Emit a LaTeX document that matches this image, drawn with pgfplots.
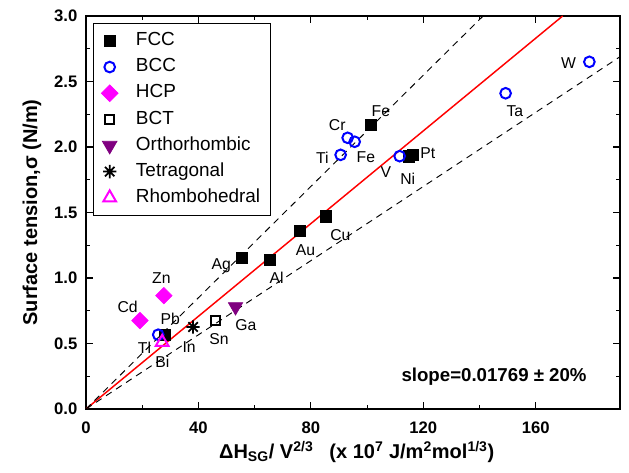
\documentclass[border=0pt]{standalone}
\usepackage{fontspec}
\setmainfont{Liberation Sans}
\usepackage{pgfplots}
\pgfplotsset{compat=1.18}
\definecolor{ortho}{RGB}{128,0,128}
\definecolor{mag}{RGB}{255,0,255}
\definecolor{blu}{RGB}{0,0,255}
% eight-armed asterisk
\pgfdeclareplotmark{star8}{%
  \pgfpathmoveto{\pgfqpoint{-\pgfplotmarksize}{0pt}}\pgfpathlineto{\pgfqpoint{\pgfplotmarksize}{0pt}}%
  \pgfpathmoveto{\pgfqpoint{0pt}{-\pgfplotmarksize}}\pgfpathlineto{\pgfqpoint{0pt}{\pgfplotmarksize}}%
  \pgfpathmoveto{\pgfqpoint{-0.707\pgfplotmarksize}{-0.707\pgfplotmarksize}}\pgfpathlineto{\pgfqpoint{0.707\pgfplotmarksize}{0.707\pgfplotmarksize}}%
  \pgfpathmoveto{\pgfqpoint{-0.707\pgfplotmarksize}{0.707\pgfplotmarksize}}\pgfpathlineto{\pgfqpoint{0.707\pgfplotmarksize}{-0.707\pgfplotmarksize}}%
  \pgfusepathqstroke}

\begin{document}
\begin{tikzpicture}
\begin{axis}[
  scale only axis, width=400.5pt, height=294.75pt,
  xmin=0, xmax=190, ymin=0, ymax=3,
  xtick={0,40,...,160}, ytick={0,0.5,...,3},
  minor x tick num=1, minor y tick num=1,
  tick align=inside, xtick pos=both, ytick pos=both,
  major tick length=5pt, minor tick length=3pt,
  axis line style={line width=1pt},
  every tick/.append style={black, line width=0.8pt},
  ticklabel style={font=\fontsize{12.5}{14}\selectfont\bfseries},
  /pgf/number format/assume math mode=true,
  y tick label style={xshift=-3pt, /pgf/number format/.cd, fixed, fixed zerofill, precision=1},
  x tick label style={yshift=-6pt},
  label style={font=\fontsize{15}{18}\selectfont\bfseries},
  xlabel={ΔH\textsubscript{SG}/ V\textsuperscript{2/3}\hspace{0.8em}(x 10\textsuperscript{7} J/m\textsuperscript{2}mol\textsuperscript{1/3})},
  ylabel={Surface tension,σ (N/m)},
  xlabel style={at={(axis description cs:0.507,0)}, anchor=center, yshift=-32pt},
  ylabel style={at={(axis description cs:-0.101,0.5)}, anchor=center},
  legend style={at={(axis description cs:0.0131,0.982)}, anchor=north west,
    draw=black, line width=0.6pt, font=\fontsize{14.2}{16}\selectfont,
    inner xsep=6pt, inner ysep=3.3pt, row sep=0pt, column sep=11.5pt,
    nodes={text height=10pt, text depth=3pt, inner ysep=3.3pt, inner xsep=2pt}},
  legend cell align=left,
  legend image code/.code={\draw[mark repeat=2,mark phase=2] plot coordinates {(0pt,0pt)(9pt,0pt)(18pt,0pt)};},
]
% fit line and +-20% band
\addplot[forget plot, red, line width=1.1pt] coordinates {(0,0) (169.6,3)};
\addplot[forget plot, black, line width=0.7pt, dash pattern=on 5pt off 4pt] coordinates {(0,0) (141.3,3)};
\addplot[forget plot, black, line width=0.7pt, dash pattern=on 5pt off 4pt] coordinates {(0,0) (190,2.689)};

\addplot[only marks, mark=square*, mark size=4.3pt, black] coordinates
  {(101.3,2.17) (116.2,1.94) (114.8,1.93) (85.3,1.47) (76.0,1.36) (65.4,1.14) (55.4,1.155) (28.1,0.568)};
\addlegendentry{FCC}
\addplot[only marks, mark=o, mark size=4pt, blu, mark options={line width=1.5pt}] coordinates
  {(93.1,2.07) (95.6,2.04) (90.6,1.94) (111.6,1.93) (149.3,2.41) (179.1,2.65) (25.7,0.567)};
\addlegendentry{BCC}
\addplot[only marks, mark=square*, mark size=4.4pt, mag, mark options={rotate=45}] coordinates
  {(27.7,0.865) (19.2,0.675)};
\addlegendentry{HCP}
\addplot[only marks, mark=square, mark size=3.4pt, black, mark options={line width=1.4pt}] coordinates
  {(46.2,0.675)};
\addlegendentry{BCT}
\addplot[only marks, mark=triangle*, mark size=6.3pt, ortho, mark options={rotate=180}] coordinates
  {(53.2,0.78)};
\addlegendentry{Orthorhombic}
\addplot[only marks, mark=star8, mark size=5pt, black, mark options={line width=1.3pt}] coordinates
  {(38.1,0.626)};
\addlegendentry{Tetragonal}
\addplot[only marks, mark=triangle, mark size=5.5pt, mag, mark options={line width=1.5pt}] coordinates
  {(27.1,0.51)};
\addlegendentry{Rhombohedral\hspace{15pt}}

\begin{scope}[every node/.style={font=\fontsize{11.8}{13}\selectfont}]
\node at (axis cs:104.9,2.27) {Fe};
\node at (axis cs:89.4,2.17) {Cr};
\node at (axis cs:84.1,1.92) {Ti};
\node at (axis cs:99.6,1.92) {Fe};
\node at (axis cs:106.7,1.81) {V};
\node at (axis cs:114.5,1.76) {Ni};
\node at (axis cs:121.6,1.95) {Pt};
\node at (axis cs:152.6,2.27) {Ta};
\node at (axis cs:171.7,2.64) {W};
\node at (axis cs:90.5,1.33) {Cu};
\node at (axis cs:78.1,1.21) {Au};
\node at (axis cs:67.8,1.0) {Al};
\node at (axis cs:48.1,1.09) {Ag};
\node at (axis cs:26.8,1.0) {Zn};
\node at (axis cs:14.8,0.78) {Cd};
\node at (axis cs:30.0,0.69) {Pb};
\node at (axis cs:20.8,0.47) {Tl};
\node at (axis cs:27.2,0.36) {Bi};
\node at (axis cs:36.7,0.47) {In};
\node at (axis cs:47.3,0.53) {Sn};
\node at (axis cs:56.9,0.64) {Ga};
\end{scope}
\node[anchor=east, font=\fontsize{14}{16}\selectfont\bfseries] at (axis cs:179.8,0.247) {slope=0.01769 ± 20\%};
\end{axis}
\pgfresetboundingbox
\useasboundingbox (-64.5pt,-48pt) rectangle (407.25pt,306.75pt);
\end{tikzpicture}
\end{document}
